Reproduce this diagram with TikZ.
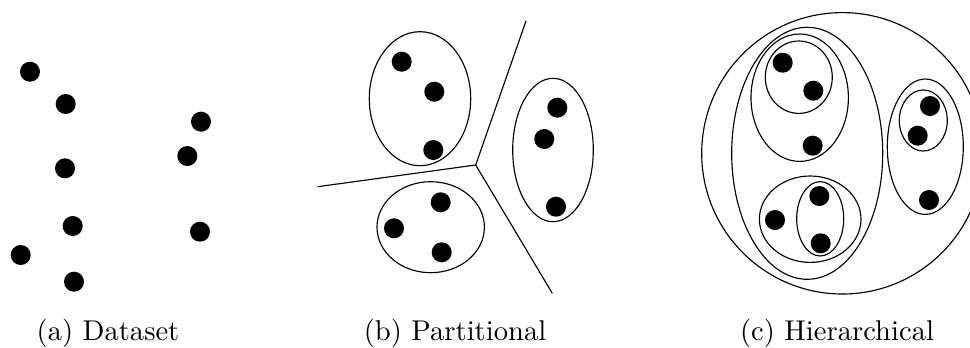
\documentclass[tikz,border=0pt]{standalone}
\usepackage{amsmath,amssymb}
\usepackage{tikz}
\usetikzlibrary{calc}
\tikzset{pt/.style={circle,fill=black,inner sep=0pt,minimum size=7pt},
  capt/.style={anchor=base,font=\normalsize}}

\begin{document}
\begin{tikzpicture}[x=1.229mm,y=1.229mm]
    \useasboundingbox (0,0) rectangle (97,34.7);
    % (a) dataset
    \node[pt] (a1) at (3.0,27.53){};
    \node[pt] (a2) at (6.57,24.3){};
    \node[pt] (a3) at (6.5,17.87){};
    \node[pt] (a4) at (7.27,12.1){};
    \node[pt] (a5) at (2.07,9.2){};
    \node[pt] (a6) at (7.4,6.53){};
    \node[pt] (a7) at (20.1,22.53){};
    \node[pt] (a8) at (18.73,19.1){};
    \node[pt] (a9) at (20.0,11.53){};
    \node[capt] (capa) at (10.8,0.7){(a) Dataset};
    % (b) partitional
    \draw (42.0,24.83) ellipse [x radius=5.07,y radius=6.7];
    \node[pt] (b1) at (40.17,28.53){};
    \node[pt] (b2) at (43.43,25.53){};
    \node[pt] (b3) at (43.33,19.7){};
    \draw (43.07,11.98) ellipse [x radius=5.37,y radius=4.55];
    \node[pt] (b4) at (44.07,14.47){};
    \node[pt] (b5) at (39.4,11.87){};
    \node[pt] (b6) at (44.17,9.47){};
    \draw (55.3,19.7) ellipse [x radius=4.03,y radius=7.17];
    \node[pt] (b7) at (55.73,23.93){};
    \node[pt] (b8) at (54.43,20.8){};
    \node[pt] (b9) at (55.6,14.03){};
    \coordinate (mid) at (47.57,18.2);
    \coordinate (up) at (52.6,32.6);
    \coordinate (lt) at (31.77,16.03);
    \coordinate (dn) at (55.23,5.37);
    \draw (mid)--(up);
    \draw (mid)--(lt);
    \draw (mid)--(dn);
    \node[capt] (capb) at (45.5,0.7){(b) Partitional};
    % (c) hierarchical
    \draw (84.24,19.37) circle [radius=14.07];
    \draw (80.72,19.37) ellipse [x radius=7.55,y radius=12.6];
    \draw (79.97,24.93) ellipse [x radius=4.87,y radius=6.37];
    \draw (79.88,26.98) ellipse [x radius=3.35,y radius=3.62];
    \node[pt] (c1) at (78.27,28.43){};
    \node[pt] (c2) at (81.33,25.63){};
    \node[pt] (c3) at (81.27,20.13){};
    \draw (81.02,12.78) ellipse [x radius=5.08,y radius=4.32];
    \draw (82.02,12.82) ellipse [x radius=2.35,y radius=3.72];
    \node[pt] (c4) at (81.93,15.1){};
    \node[pt] (c5) at (77.5,12.7){};
    \node[pt] (c6) at (82.07,10.37){};
    \draw (92.53,20.03) ellipse [x radius=3.8,y radius=6.77];
    \draw (92.33,22.65) ellipse [x radius=2.4,y radius=3.05];
    \node[pt] (c7) at (93.0,24.1){};
    \node[pt] (c8) at (91.77,21.13){};
    \node[pt] (c9) at (92.9,14.7){};
    \node[capt] (capc) at (83.7,0.7){(c) Hierarchical};
\end{tikzpicture}
\end{document}
